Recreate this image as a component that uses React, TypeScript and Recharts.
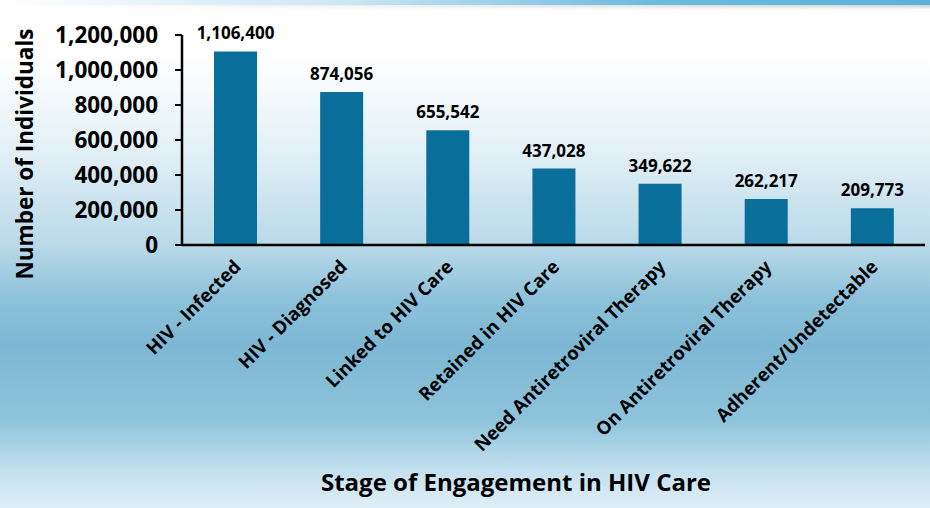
import React from "react";
import { BarChart, Bar, XAxis, YAxis, LabelList, Label } from "recharts";

const categories = [
  "HIV - Infected",
  "HIV - Diagnosed",
  "Linked to HIV Care",
  "Retained in HIV Care",
  "Need Antiretroviral Therapy",
  "On Antiretroviral Therapy",
  "Adherent/Undetectable",
];
const individuals = [1106400, 874056, 655542, 437028, 349622, 262217, 209773];
const yTicks = [0, 200000, 400000, 600000, 800000, 1000000, 1200000];
const boundaryTicks = [0, 1, 2, 3, 4, 5, 6, 7];

const data = categories.map((name, i) => ({ name, value: individuals[i] }));

const FONT = "'Open Sans', Lato, sans-serif";
const fmt = (v: number) => v.toLocaleString("en-US");

const CatTick = (props: any) => {
  const { x, y, payload } = props;
  return (
    <text
      x={x + 7}
      y={y + 15}
      transform={`rotate(-45 ${x + 7} ${y + 15})`}
      textAnchor="end"
      fontFamily={FONT}
      fontWeight={700}
      fontSize={18.5}
      fill="#000"
    >
      {payload.value}
    </text>
  );
};

const YTitle = () => (
  <text
    x={24}
    y={154}
    transform="rotate(-90 24 154)"
    textAnchor="middle"
    dominantBaseline="central"
    fontFamily={FONT}
    fontWeight={700}
    fontSize={22.5}
    fill="#000"
  >
    Number of Individuals
  </text>
);

const XTitle = () => (
  <text
    x={516}
    y={491}
    textAnchor="middle"
    fontFamily={FONT}
    fontWeight={700}
    fontSize={24}
    fill="#000"
  >
    Stage of Engagement in HIV Care
  </text>
);

export default function App() {
  return (
    <div
      style={{
        position: "fixed",
        left: 0,
        top: 0,
        width: 930,
        height: 508,
        background:
          "linear-gradient(to bottom, #ffffff 0px, #ffffff 55px, #e3f0f6 150px, #b9d9e9 245px, #8cc1da 300px, #7db7d3 345px, #8ec3db 420px, #c3e0ee 470px, #dfeef6 508px)",
        overflow: "hidden",
      }}
    >
      <div
        style={{
          position: "absolute",
          left: 0,
          top: 0,
          width: 930,
          height: 5,
          background:
            "linear-gradient(to right, rgba(255,255,255,0) 0px, rgba(150,205,232,0.5) 350px, #6cbbe0 650px, #5ab3dc 930px)",
        }}
      />
      <div
        style={{
          position: "absolute",
          left: 0,
          top: 5,
          width: 930,
          height: 5,
          background:
            "linear-gradient(to right, rgba(255,255,255,0) 0px, rgba(180,180,180,0.25) 400px, rgba(150,150,150,0.45) 930px)",
          maskImage: "linear-gradient(to bottom, black, transparent)",
          WebkitMaskImage: "linear-gradient(to bottom, black, transparent)",
        }}
      />
      <BarChart
        width={930}
        height={508}
        data={data}
        margin={{ top: 35, right: 5, left: 0, bottom: 10 }}
        barCategoryGap="20%"
        style={{ position: "absolute", left: 0, top: 0 }}
      >
        <XAxis
          dataKey="name"
          xAxisId="cat"
          interval={0}
          tick={<CatTick />}
          tickLine={false}
          axisLine={{ stroke: "#000", strokeWidth: 2.5 }}
          height={253}
        >
          <Label content={<XTitle />} />
        </XAxis>
        <XAxis
          xAxisId="bound"
          type="number"
          domain={[0, 7]}
          ticks={boundaryTicks}
          tickFormatter={() => ""}
          axisLine={false}
          tickLine={{ stroke: "#000", strokeWidth: 2 }}
          tickSize={7}
          height={0}
        />
        <YAxis
          domain={[0, 1200000]}
          ticks={yTicks}
          tickFormatter={fmt}
          width={182}
          interval={0}
          axisLine={{ stroke: "#000", strokeWidth: 2.5 }}
          tickLine={{ stroke: "#000", strokeWidth: 2 }}
          tickSize={7}
          tickMargin={17}
          tick={{ fontFamily: FONT, fontWeight: 700, fontSize: 22.5, fill: "#000" }}
        >
          <Label content={<YTitle />} />
        </YAxis>
        <Bar dataKey="value" xAxisId="cat" fill="#0a6e9b" isAnimationActive={false} barSize={43}>
          <LabelList
            dataKey="value"
            position="top"
            offset={12}
            formatter={(v: any) => fmt(Number(v))}
            style={{ fontFamily: FONT, fontWeight: 700, fontSize: 17, fill: "#000" }}
          />
        </Bar>
      </BarChart>
    </div>
  );
}
